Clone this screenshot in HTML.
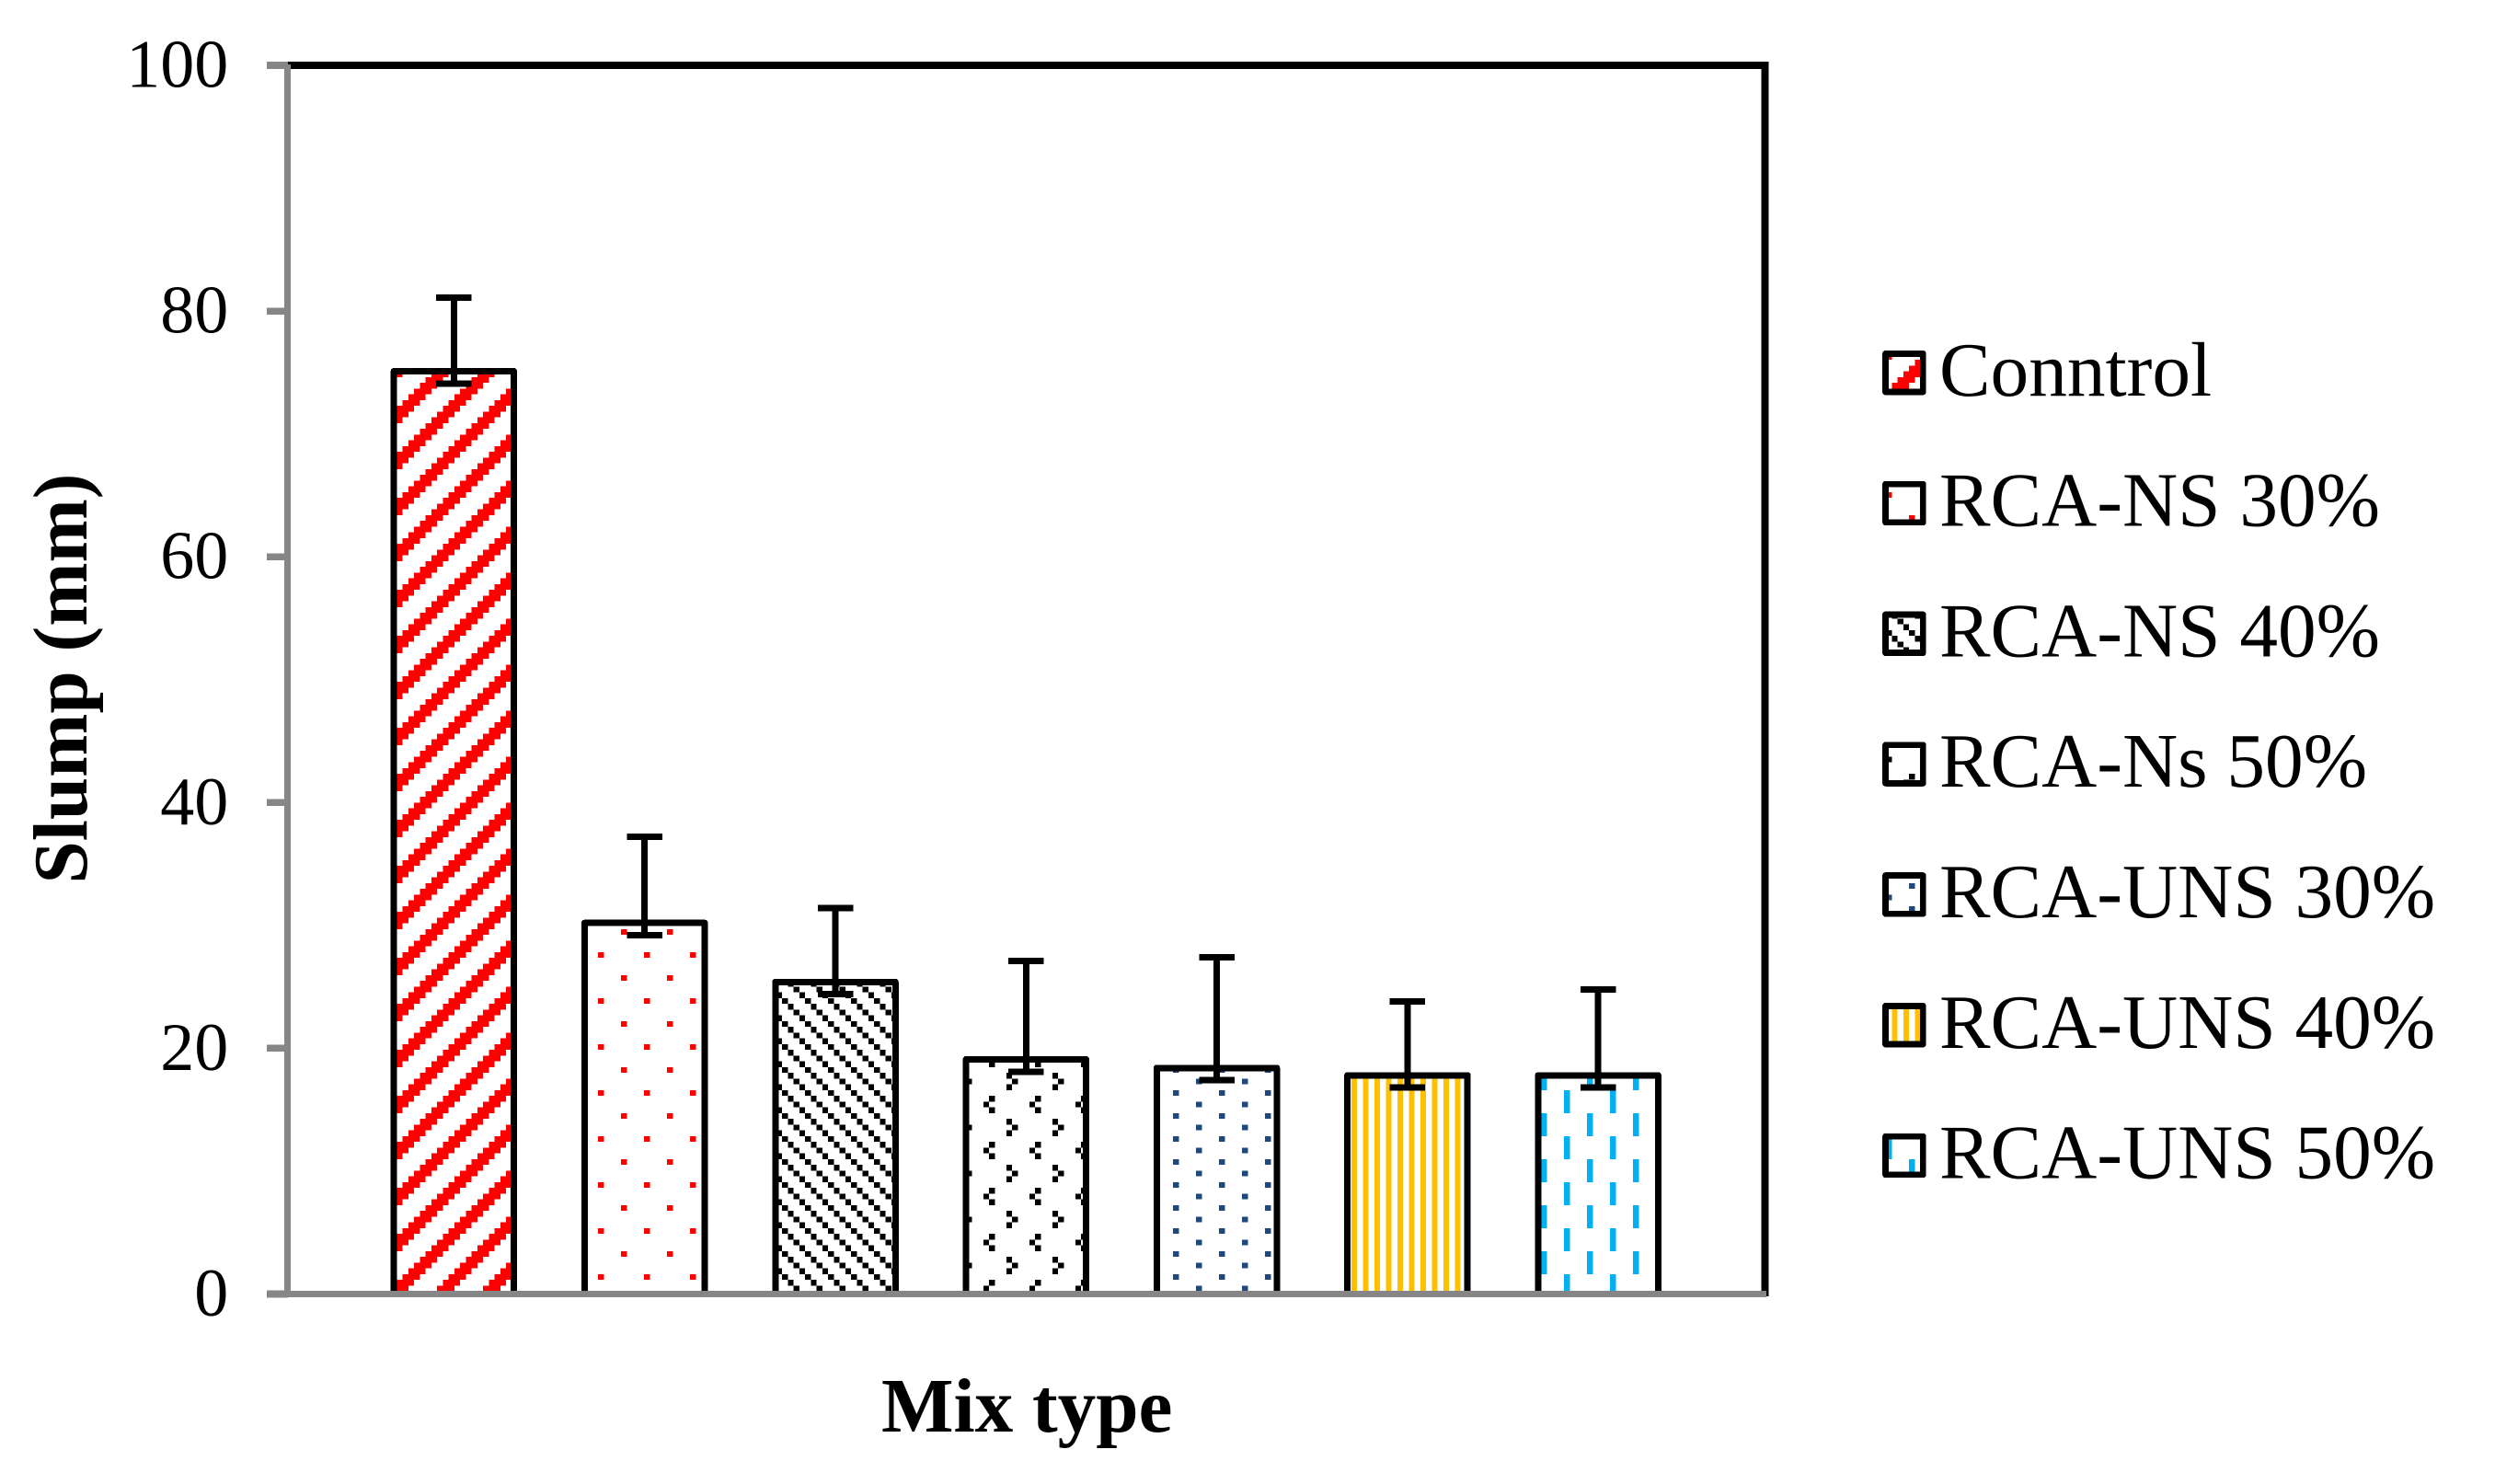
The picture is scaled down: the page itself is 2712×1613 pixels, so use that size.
<!DOCTYPE html>
<html lang="en">
<head>
<meta charset="utf-8">
<title>Slump by mix type</title>
<style>
html,body{margin:0;padding:0;background:#fff;}
body{width:2712px;height:1613px;overflow:hidden;}
svg{display:block;}
text{font-family:"Liberation Serif","Times New Roman",serif;fill:#000;}
</style>
</head>
<body>
<svg id="chart" xmlns="http://www.w3.org/2000/svg" width="2712" height="1613" viewBox="0 0 2712 1613">
  <defs id="patterns"></defs>
  <rect x="0" y="0" width="2712" height="1613" fill="#ffffff"/>
  <g id="plot-frame">
    <path d="M313 71 H1918.5 V1409" fill="none" stroke="#000" stroke-width="7.6" shape-rendering="crispEdges"/>
  </g>
  <g id="bars"></g>
  <g id="errors"></g>
  <g id="axes"></g>
  <text transform="translate(94 737.5) rotate(-90)" text-anchor="middle" font-size="83.2" font-weight="700">Slump (mm)</text>
  <text x="1116.2" y="1556" text-anchor="middle" font-size="83.2" font-weight="700">Mix type</text>
  <g id="legend"></g>
</svg>
<script>
const categories = ["Conntrol", "RCA-NS 30%", "RCA-NS 40%", "RCA-Ns 50%", "RCA-UNS 30%", "RCA-UNS 40%", "RCA-UNS 50%"];
const slumpValues = [75.1, 30.2, 25.4, 19.1, 18.4, 17.8, 17.8];
const errorUp = [6, 7, 6, 8, 9, 6, 7];
const errorDown = [1, 1, 1, 1, 1, 1, 1];
const yTicks = [0, 20, 40, 60, 80, 100];

const SVG_NS = "http://www.w3.org/2000/svg";
const plot = { left: 312.5, right: 1918.5, top: 71, bottom: 1406.5, yMax: 100 };
const barSpacing = 207.3;
const barWidth = 130.5;
const capWidth = 38.5;

function yScale(v) { return plot.bottom - (v / plot.yMax) * (plot.bottom - plot.top); }
function xScale(i) { return 1115.3 + (i - (categories.length - 1) / 2) * barSpacing; }

function make(tag, attrs, parent) {
  const el = document.createElementNS(SVG_NS, tag);
  for (const k in attrs) el.setAttribute(k, attrs[k]);
  parent.appendChild(el);
  return el;
}

/* Fill textures: one 8x8 cell bitmap per series, tile anchored to the page */
const textureColors = ["#ff0000", "#ff0000", "#000000", "#000000", "#1f497d", "#ffc000", "#00b0f0"];
const textureBitmaps = [
  ["...###..", "..###...", ".###....", "###.....", "##.....#", "#.....##", ".....###", "....###."],
  ["........", "....#...", "........", "........", "........", "#.......", "........", "........"],
  ["...#...#", "#...#...", ".#...#..", "..#...#.", "...#...#", "#...#...", ".#...#..", "..#...#."],
  ["....#...", "........", ".......#", "#.......", ".......#", "........", "....#...", "...#...."],
  ["........", "....#...", "........", "#.......", "........", "....#...", "........", "#......."],
  [".#.#.#.#", ".#.#.#.#", ".#.#.#.#", ".#.#.#.#", ".#.#.#.#", ".#.#.#.#", ".#.#.#.#", ".#.#.#.#"],
  ["#.......", "....#...", "....#...", "....#...", "....#...", "#.......", "#.......", "#......."]
];
const cell = 6.25;
const defs = document.getElementById("patterns");
textureBitmaps.forEach(function (rows, s) {
  const p = make("pattern", { id: "tex" + s, patternUnits: "userSpaceOnUse", x: 0, y: 3.5, width: 50, height: 50 }, defs);
  make("rect", { x: 0, y: 0, width: 50, height: 50, fill: "#ffffff" }, p);
  rows.forEach(function (row, r) {
    for (let c = 0; c < 8; c++) {
      if (row[c] === "#") {
        make("rect", { x: c * cell, y: r * cell, width: cell, height: cell, fill: textureColors[s], "shape-rendering": "crispEdges" }, p);
      }
    }
  });
});

/* Bars */
const barsG = document.getElementById("bars");
slumpValues.forEach(function (v, i) {
  const y = yScale(v);
  const bar = make("rect", {
    x: xScale(i) - barWidth / 2, y: y, width: barWidth, height: plot.bottom - y,
    fill: "url(#tex" + i + ")", stroke: "#000", "stroke-width": 7, "stroke-linejoin": "round", "shape-rendering": "crispEdges"
  }, barsG);
  
  
});

/* Error bars */
const errG = document.getElementById("errors");
slumpValues.forEach(function (v, i) {
  const cx = xScale(i);
  const hi = yScale(v + errorUp[i]);
  const lo = yScale(v - errorDown[i]);
  const d = "M" + cx + " " + lo + " V" + hi + " M" + (cx - capWidth / 2) + " " + hi + " H" + (cx + capWidth / 2) +
            " M" + (cx - capWidth / 2) + " " + lo + " H" + (cx + capWidth / 2);
  const eb = make("path", { d: d, fill: "none", stroke: "#000", "stroke-width": 7, "shape-rendering": "crispEdges" }, errG);
  
  
});

/* Axes and ticks */
const axesG = document.getElementById("axes");
const yAxisLine = make("line", { x1: plot.left, x2: plot.left, y1: 70, y2: 1410, stroke: "#868686", "stroke-width": 7, "shape-rendering": "crispEdges" }, axesG);


const xAxisLine = make("line", { x1: 290, x2: 1920, y1: plot.bottom, y2: plot.bottom, stroke: "#868686", "stroke-width": 7, "shape-rendering": "crispEdges" }, axesG);


yTicks.forEach(function (t) {
  const y = yScale(t);
  const mark = make("line", { x1: 290, x2: 313, y1: y, y2: y, stroke: "#868686", "stroke-width": 7.6, "shape-rendering": "crispEdges" }, axesG);
  
  
  const label = make("text", { x: 248.3, y: y + 23.5, "text-anchor": "end", "font-size": 74 }, axesG);
  label.textContent = String(t);
  
  
});

/* Legend */
const legendG = document.getElementById("legend");
categories.forEach(function (name, i) {
  const cy = 405.2 + i * 141.8;
  const entry = make("g", {}, legendG);
  
  
  const swatch = make("rect", {
    x: 2049.5, y: cy - 20.8, width: 40.8, height: 41.6,
    fill: "url(#tex" + i + ")", stroke: "#000", "stroke-width": 6.8, "stroke-linejoin": "round", "shape-rendering": "crispEdges"
  }, entry);
  
  
  const label = make("text", { x: 2108, y: cy + 24.6, "font-size": 83.3 }, entry);
  label.textContent = name;
  
  
});
</script>
</body>
</html>
